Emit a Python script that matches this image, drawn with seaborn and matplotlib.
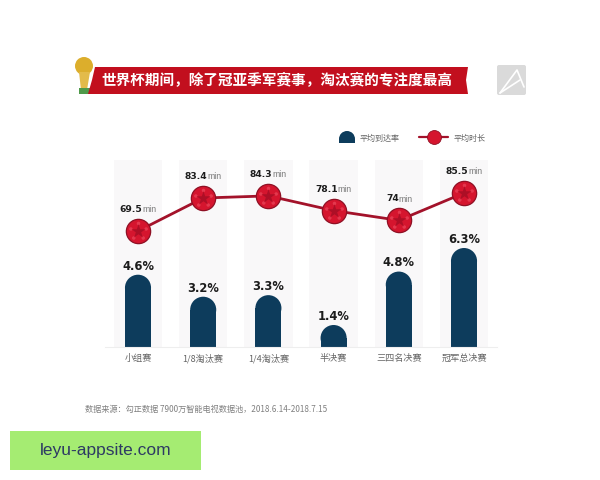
import numpy as np
import pandas as pd
import seaborn as sns
import matplotlib.pyplot as plt
from matplotlib.patches import Ellipse, Polygon, Rectangle, Wedge, FancyBboxPatch
from matplotlib.path import Path
from matplotlib.transforms import Affine2D

categories = ["小组赛", "1/8淘汰赛", "1/4淘汰赛", "半决赛", "三四名决赛", "冠军总决赛"]
arrival_rate = [4.6, 3.2, 3.3, 1.4, 4.8, 6.3]
avg_minutes = [69.5, 83.4, 84.3, 78.1, 74, 85.5]
minute_labels = ["69.5", "83.4", "84.3", "78.1", "74", "85.5"]

title = "世界杯期间，除了冠亚季军赛事，淘汰赛的专注度最高"
source = "数据来源：勾正数据 7900万智能电视数据池，2018.6.14-2018.7.15"
watermark = "leyu-appsite.com"

sns.set_theme(style="white")
plt.rcParams['font.family'] = ['Noto Sans CJK SC', 'DejaVu Sans']

NAVY = "#0d3c5c"
RED = "#d5152e"
DARK_RED = "#a3122a"

fig = plt.figure(figsize=(6, 4.8), dpi=100)
fig.patch.set_facecolor("white")

# main axes, 1 px = 1/600 and 1/480 of the figure
ax = fig.add_axes([105 / 600, (480 - 347) / 480, 392 / 600, 187 / 480])
ax.set_facecolor("none")
df = pd.DataFrame({"cat": categories, "rate": arrival_rate, "minutes": avg_minutes})

# pale bands behind the bars
ymax = 11.9
sns.barplot(x=categories, y=[ymax] * 6, color="#f9f8f9", width=0.74, saturation=1,
            edgecolor="none", linewidth=0, ax=ax)
n_bands = len(ax.patches)
sns.barplot(data=df, x="cat", y="rate", color=NAVY, width=0.4, saturation=1,
            edgecolor="none", linewidth=0, ax=ax)
ax.set_ylim(0, ymax)
ax.set_xlim(-0.506, 5.506)
ax.set_xlabel("")
ax.set_ylabel("")
ax.set_yticks([])

# round the bar tops
r_y = 13 / 15.7
for bar, v in zip(ax.patches[n_bands:], arrival_rate):
    bar.set_height(v - r_y)
    ax.add_patch(Ellipse((bar.get_x() + bar.get_width() / 2, v - r_y), bar.get_width(), 2 * r_y,
                         facecolor=NAVY, edgecolor="none"))
    ax.annotate(f"{v}%", (bar.get_x() + bar.get_width() / 2, v), xytext=(0, 1.5),
                textcoords="offset points", ha="center", va="bottom", fontsize=8.3,
                fontweight="bold", color="#1c1c1c", family=["DejaVu Sans"])

for s in ["top", "left", "right"]:
    ax.spines[s].set_visible(False)
ax.spines["bottom"].set_color("#eeeeee")
ax.spines["bottom"].set_linewidth(0.8)
ax.tick_params(axis="x", length=0, pad=5, labelsize=6.6, labelcolor="#666666")

# soccer ball patches around the star, as one marker
angles = np.deg2rad(np.arange(5) * 72 + 90)
ball_spots = Path.make_compound_path(*[
    Path.unit_circle().transformed(Affine2D().scale(0.17).translate(0.78 * np.cos(a), 0.78 * np.sin(a)))
    for a in angles])

# duration line on its own scale
ax2 = ax.twinx()
ax2.set_facecolor("none")
xs = np.arange(len(categories))
sns.lineplot(x=xs, y=avg_minutes, color=DARK_RED, linewidth=2, marker="o", markersize=17.5,
             markerfacecolor=RED, markeredgecolor="#8f1024", markeredgewidth=0.9, ax=ax2)
sns.scatterplot(x=xs, y=avg_minutes, marker=ball_spots, s=200, color="#e4384e", linewidth=0, zorder=5, ax=ax2)
sns.scatterplot(x=xs, y=avg_minutes, marker="*", s=110, color="#ad0f26", linewidth=0, zorder=6, ax=ax2)
ax2.set_ylim(20.7, 99.4)
ax2.set_yticks([])
ax2.set_ylabel("")
for s in ["top", "left", "right", "bottom"]:
    ax2.spines[s].set_visible(False)

for x, v, lab in zip(xs, avg_minutes, minute_labels):
    shift = 3 if len(lab) > 2 else 0
    ax2.annotate(lab, (x, v), xytext=(shift, 15.5), textcoords="offset points", ha="right",
                 va="center", fontsize=6.6, fontweight="bold", color="#1c1c1c", family=["DejaVu Sans"])
    ax2.annotate("min", (x, v), xytext=(shift, 15.2), textcoords="offset points", ha="left",
                 va="center", fontsize=6.2, color="#777777", family=["Liberation Sans"])

# overlay in pixel coordinates for the banner, legend and notes
deco = fig.add_axes([0, 0, 1, 1], zorder=10)
deco.set_xlim(0, 600)
deco.set_ylim(480, 0)
deco.axis("off")

# trophy
deco.add_patch(Ellipse((84, 66), 18, 18, facecolor="#dcae2c", edgecolor="none"))
deco.add_patch(Polygon([(79, 72), (90, 72), (87, 90), (81, 90)], facecolor="#e3bb4a", edgecolor="none"))
deco.add_patch(Rectangle((79, 88), 12, 6, facecolor="#4f9a4a", edgecolor="none"))

deco.add_patch(Polygon([(95, 67), (468, 67), (466, 80), (468, 94), (88, 94), (92, 80)],
                       facecolor="#c20f1e", edgecolor="none"))
deco.text(277, 80.5, title, color="white", fontsize=10.5, fontweight="bold", ha="center", va="center")

# grey logo
deco.add_patch(FancyBboxPatch((498, 66), 27, 28, boxstyle="round,pad=1,rounding_size=2",
                              facecolor="#dadada", edgecolor="none"))
deco.plot([500, 517, 524], [93, 70, 87], color="white", lw=1.2)
deco.plot([500, 520], [93, 80], color="white", lw=1.2)

# legend
deco.add_patch(Wedge((347, 139), 8, 180, 360, facecolor=NAVY, edgecolor="none"))
deco.add_patch(Rectangle((339, 139), 16, 4, facecolor=NAVY, edgecolor="none"))
deco.text(360, 138, "平均到达率", fontsize=5.8, color="#666666", va="center")
deco.plot([419, 448], [137, 137], color=DARK_RED, lw=1.6)
deco.plot([434], [137], marker="o", ms=10, mfc=RED, mec="#8f1024", mew=0.6)
deco.text(454, 138, "平均时长", fontsize=5.8, color="#666666", va="center")

deco.text(85, 409, source, fontsize=5.9, color="#808080", va="center")

deco.add_patch(Rectangle((10, 431), 191, 39, facecolor="#a5ec72", edgecolor="none"))
deco.text(105.5, 450, watermark, fontsize=12.5, color="#2d3a63", ha="center", va="center",
          family=["Liberation Sans"])

fig.savefig("out.png", dpi=100)
